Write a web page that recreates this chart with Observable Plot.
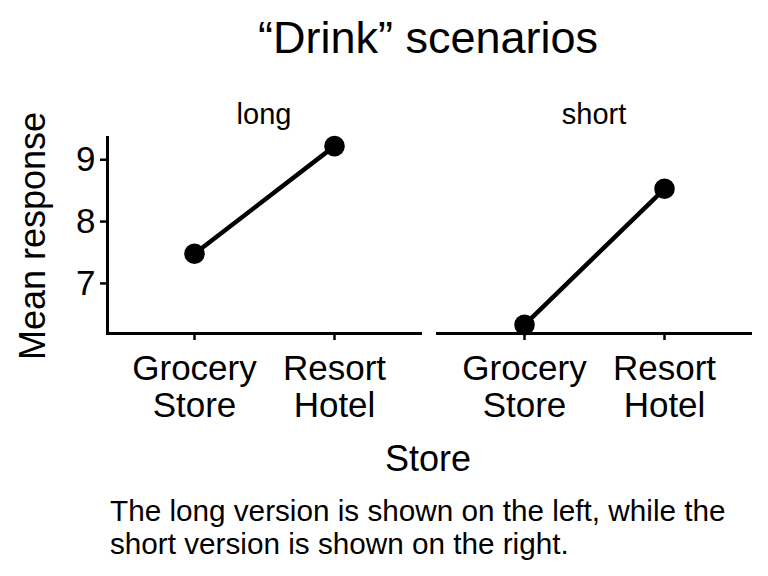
<!DOCTYPE html>
<html><head><meta charset="utf-8">
<script src="https://cdn.jsdelivr.net/npm/d3@7"></script>
<script src="https://cdn.jsdelivr.net/npm/@observablehq/plot@0.6"></script>
<style>
body{margin:0;background:#fff;font-family:"Liberation Sans",Arial,Helvetica,sans-serif;color:#000;}
#wrap{position:relative;width:768px;height:576px;overflow:hidden;background:#fff;}
#chart{position:absolute;left:0;top:80px;}
#title{position:absolute;left:428px;top:15px;transform:translateX(-50%);font-size:45px;line-height:1;white-space:nowrap;}
#ylab{position:absolute;left:33px;top:236px;transform:translate(-50%,-50%) rotate(-90deg);font-size:36px;line-height:1;white-space:nowrap;}
#xlab{position:absolute;left:428px;top:441px;transform:translateX(-50%);font-size:36px;line-height:1;white-space:nowrap;}
#caption{position:absolute;left:110px;top:494px;font-size:29.7px;line-height:33px;white-space:nowrap;}
</style></head><body>
<div id="wrap">
  <div id="title">“Drink” scenarios</div>
  <div id="chart"></div>
  <div id="ylab">Mean response</div>
  <div id="xlab">Store</div>
  <div id="caption">The long version is shown on the left, while the<br>short version is shown on the right.</div>
</div>
<script>
const versions = ["long", "short"];
const stores = ["Grocery Store", "Resort Hotel"];
const longMeans = [7.48, 9.22];
const shortMeans = [6.33, 8.53];
const yTicks = [7, 8, 9];

const data = [
  ...stores.map((s, i) => ({version: "long", store: s, mean: longMeans[i]})),
  ...stores.map((s, i) => ({version: "short", store: s, mean: shortMeans[i]}))
];

const plot = Plot.plot({
  width: 768,
  height: 360,
  marginTop: 57,
  marginBottom: 107,
  marginLeft: 107,
  marginRight: 18,
  style: {fontFamily: '"Liberation Sans", Arial, Helvetica, sans-serif', background: "white", color: "black"},
  fx: {domain: versions, paddingInner: 0.052, paddingOuter: 0, label: null},
  x: {domain: stores, type: "point", padding: 0.61, label: null},
  y: {domain: [6.19, 9.36], label: null},
  marks: [
    Plot.frame({anchor: "bottom", stroke: "black", strokeWidth: 3}),
    Plot.frame({anchor: "left", stroke: "black", strokeWidth: 3, fx: () => "long"}),
    Plot.axisY(yTicks, {anchor: "left", tickSize: 7, tickPadding: 5, fontSize: 35, strokeWidth: 2.5, tickFormat: d3.format("d"), label: null}),
    Plot.axisX({anchor: "bottom", tickSize: 7, tickPadding: 12, fontSize: 35, lineHeight: 1.086, strokeWidth: 2.5, tickFormat: d => d.replace(" ", "\n"), label: null}),
    Plot.axisFx({anchor: "top", tickSize: 0, tickPadding: 14, fontSize: 29, label: null}),
    Plot.line(data, {x: "store", y: "mean", fx: "version", stroke: "black", strokeWidth: 4.5}),
    Plot.dot(data, {x: "store", y: "mean", fx: "version", r: 10.3, fill: "black", stroke: "none"})
  ]
});
document.getElementById("chart").appendChild(plot);
</script>
</body></html>
